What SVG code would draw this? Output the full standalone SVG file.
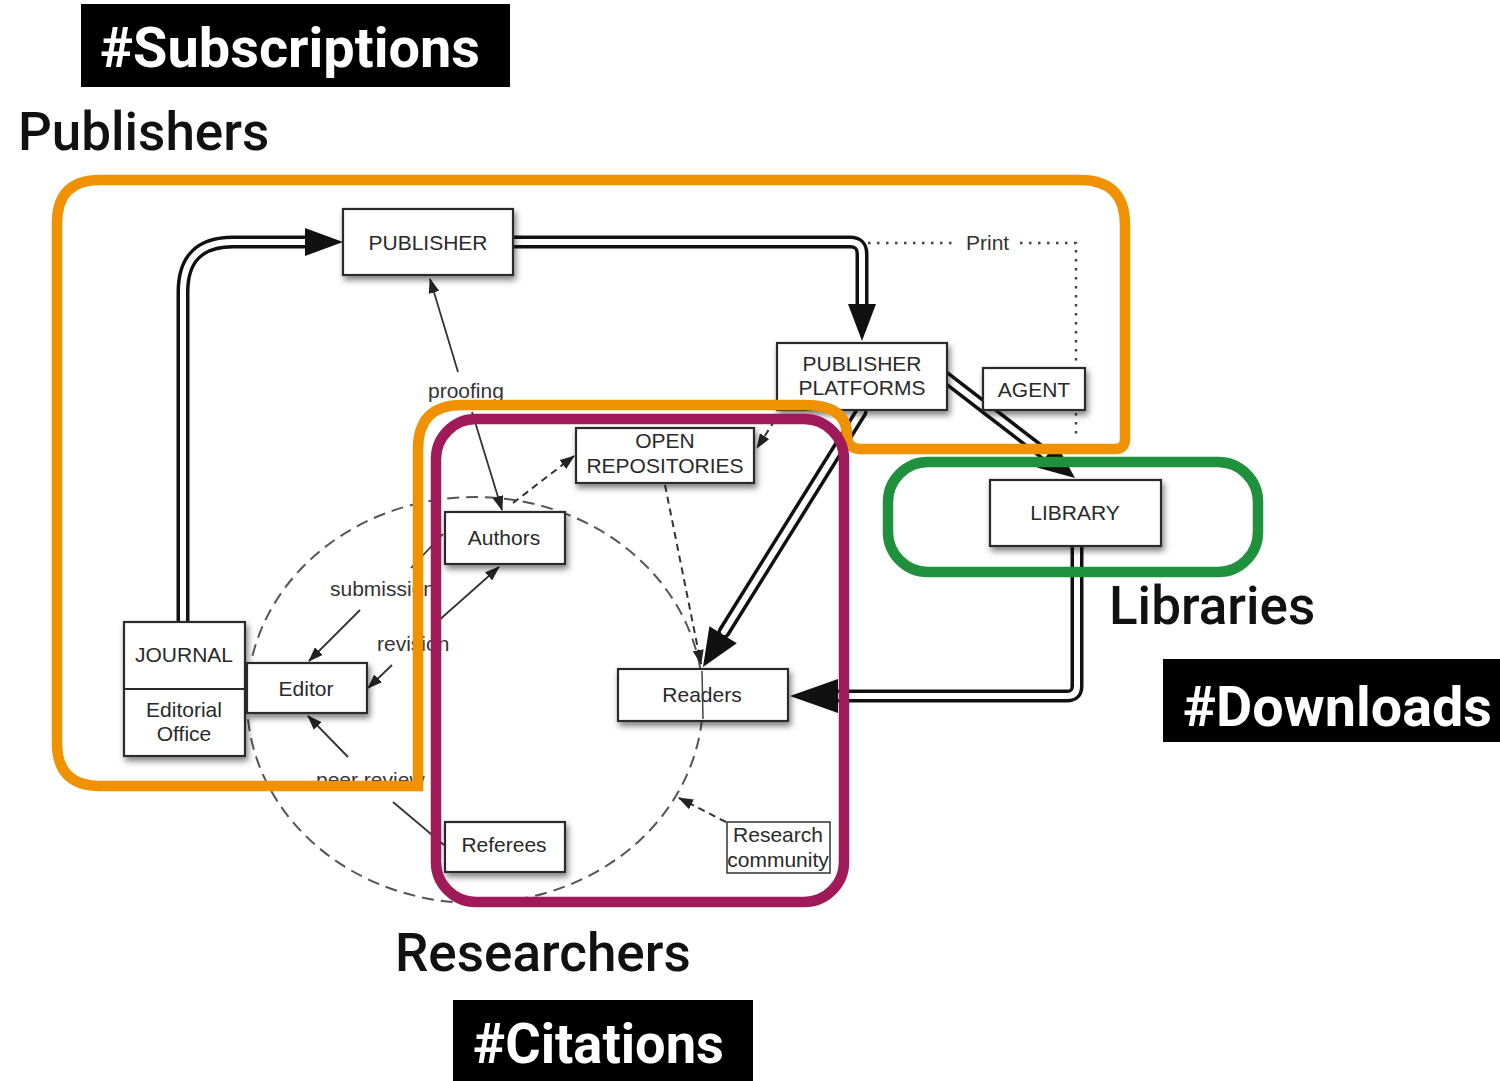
<svg xmlns="http://www.w3.org/2000/svg" width="1500" height="1081" viewBox="0 0 1500 1081">
<style>
.bg{fill:#fff}
.box{fill:#fff;stroke:#2a2a2a;stroke-width:2.2}
.t{font-family:"Liberation Sans",Arial,sans-serif;font-size:21px;fill:#2a2a2a;text-anchor:middle}
.lbl{font-family:"Liberation Sans",Arial,sans-serif;font-size:21px;fill:#333}
.dblo{fill:none;stroke:#111;stroke-width:13;stroke-linecap:round;stroke-linejoin:round}
.dbli{fill:none;stroke:#fff;stroke-width:6;stroke-linecap:round;stroke-linejoin:round}
.head{fill:#111}
.thin{fill:none;stroke:#333;stroke-width:1.8}
.dash{fill:none;stroke:#333;stroke-width:2;stroke-dasharray:7 5}
.dot{fill:none;stroke:#444;stroke-width:2.5;stroke-dasharray:2.5 6.5}
.circ{fill:none;stroke:#555;stroke-width:2;stroke-dasharray:12 7}
.region{fill:none;stroke-width:10.5}
.big{font-family:Roboto,"Liberation Sans",sans-serif;font-weight:500;font-size:53px;fill:#111}
.tag{font-family:Roboto,"Liberation Sans",sans-serif;font-weight:700;font-size:56px;fill:#fff}
</style>
<defs>
<filter id="sh" x="-20%" y="-20%" width="150%" height="170%">
<feDropShadow dx="2" dy="4" stdDeviation="3" flood-color="#000" flood-opacity="0.5"/>
</filter>
<marker id="ah" markerUnits="userSpaceOnUse" markerWidth="15" markerHeight="11" refX="14" refY="5.5" orient="auto">
<path d="M0,0 L15,5.5 L0,11 z" fill="#222"/>
</marker>
<path id="c1" d="M183 622 L183 292 Q183 242 233 242 L312 242"/>
<path id="c2" d="M510 242 L850 242 Q862 242 862 254 L862 308"/>
<path id="c3" d="M945 377 L1050 458"/>
<path id="c4" d="M861 412 L724 632"/>
<path id="c5" d="M1077 543 L1077 686 Q1077 696 1067 696 L832 696"/>
</defs>
<rect class="bg" x="0" y="0" width="1500" height="1081"/>

<g id="connectors">
<ellipse class="circ" cx="475" cy="700" rx="228" ry="203"/>
<use href="#c1" class="dblo"/><use href="#c1" class="dbli"/>
<polygon class="head" points="343,242 305,228 305,256"/>
<use href="#c2" class="dblo"/><use href="#c2" class="dbli"/>
<polygon class="head" points="862,341 848,304 876,304"/>
<use href="#c3" class="dblo"/><use href="#c3" class="dbli"/>
<polygon class="head" points="1075,478 1036.9,467.6 1056.3,444.0"/>
<use href="#c4" class="dblo"/><use href="#c4" class="dbli"/>
<polygon class="head" points="703,667 736.8,643.3 709.4,626.3"/>
<use href="#c5" class="dblo"/><use href="#c5" class="dbli"/>
<polygon class="head" points="790,696 838,679 838,713"/>
<path class="dot" d="M868 243 L958 243 M1020 243 L1076 243 L1076 366 M1076 413 L1076 440"/>
<text class="lbl" x="966" y="250">Print</text>
<line class="thin" x1="458" y1="372" x2="430" y2="279" marker-end="url(#ah)"/>
<line class="thin" x1="472" y1="412" x2="502" y2="510" marker-end="url(#ah)"/>
<line class="thin" x1="360" y1="610" x2="309" y2="661" marker-end="url(#ah)"/>
<line class="thin" x1="392" y1="665" x2="368" y2="688" marker-end="url(#ah)"/>
<line class="thin" x1="348" y1="757" x2="308" y2="716" marker-end="url(#ah)"/>
<line class="thin" x1="437" y1="622" x2="499" y2="567" marker-end="url(#ah)"/>
<line class="thin" x1="443" y1="534" x2="411" y2="568"/>
<line class="thin" x1="393" y1="802" x2="444" y2="845"/>
<line class="dash" x1="513" y1="503" x2="574" y2="456" marker-end="url(#ah)"/>
<line class="dash" x1="665" y1="485" x2="701" y2="664" marker-end="url(#ah)"/>
<line class="dash" x1="775" y1="420" x2="757" y2="448" marker-end="url(#ah)"/>
<line class="dash" x1="726" y1="822" x2="679" y2="798" marker-end="url(#ah)"/>
<text class="lbl" x="428" y="398">proofing</text>
<text class="lbl" x="330" y="596">submission</text>
<text class="lbl" x="377" y="651">revision</text>
<text class="lbl" x="316" y="787">peer review</text>
</g>

<g id="publisher"><rect class="box" filter="url(#sh)" x="343" y="209" width="170" height="66"/><text class="t" x="428" y="250">PUBLISHER</text></g>
<g id="publisher-platforms"><rect class="box" filter="url(#sh)" x="777" y="343" width="170" height="67"/><text class="t" x="862" y="371">PUBLISHER</text><text class="t" x="862" y="395">PLATFORMS</text></g>
<g id="agent"><rect class="box" filter="url(#sh)" x="983" y="368" width="102" height="42"/><text class="t" x="1034" y="397">AGENT</text></g>
<g id="library"><rect class="box" filter="url(#sh)" x="990" y="480" width="171" height="66"/><text class="t" x="1075" y="520">LIBRARY</text></g>
<g id="open-repositories"><rect class="box" filter="url(#sh)" x="576" y="428" width="178" height="55"/><text class="t" x="665" y="448">OPEN</text><text class="t" x="665" y="473">REPOSITORIES</text></g>
<g id="authors"><rect class="box" filter="url(#sh)" x="445" y="512" width="120" height="52"/><text class="t" x="504" y="545">Authors</text></g>
<g id="journal"><rect class="box" filter="url(#sh)" x="124" y="622" width="121" height="134"/><line x1="124" y1="689" x2="245" y2="689" stroke="#2a2a2a" stroke-width="2"/><text class="t" x="184" y="662">JOURNAL</text><text class="t" x="184" y="717">Editorial</text><text class="t" x="184" y="741">Office</text></g>
<g id="editor"><rect class="box" filter="url(#sh)" x="247" y="663" width="120" height="50"/><text class="t" x="306" y="696">Editor</text></g>
<g id="readers"><rect class="box" filter="url(#sh)" x="618" y="669" width="170" height="52"/><text class="t" x="702" y="702">Readers</text><line x1="702" y1="671" x2="703" y2="719" stroke="#444" stroke-width="1.5"/></g>
<g id="referees"><rect class="box" filter="url(#sh)" x="445" y="822" width="120" height="50"/><text class="t" x="504" y="852">Referees</text></g>
<g id="research-community"><rect x="727" y="822" width="103" height="51" fill="#fff" stroke="#333" stroke-width="1.5"/><text class="t" x="778" y="842">Research</text><text class="t" x="778" y="867">community</text></g>

<g id="regions">
<path class="region" stroke="#F09100" d="M100 180 L1080 180 Q1125 180 1125 225 L1125 439 Q1125 449 1115 449 L861 449 Q847 449 847 435 Q847 405 805 405 L462 405 Q418 405 418 449 L418 786 L100 786 Q57 786 57 743 L57 223 Q57 180 100 180 Z"/>
<rect class="region" stroke="#A01A5A" x="436" y="419" width="408" height="483" rx="40"/>
<rect class="region" stroke="#1F913C" x="888" y="462" width="370" height="110" rx="40"/>
</g>

<g id="labels">
<rect x="81" y="4" width="429" height="83" fill="#000"/>
<text class="tag" x="100" y="67" textLength="380" lengthAdjust="spacingAndGlyphs">#Subscriptions</text>
<text class="big" x="18" y="150">Publishers</text>
<text class="big" x="1109" y="624">Libraries</text>
<rect x="1163" y="659" width="337" height="83" fill="#000"/>
<text class="tag" x="1183" y="726" textLength="309" lengthAdjust="spacingAndGlyphs">#Downloads</text>
<text class="big" x="395" y="971">Researchers</text>
<rect x="453" y="1000" width="300" height="81" fill="#000"/>
<text class="tag" x="473" y="1063" textLength="251" lengthAdjust="spacingAndGlyphs">#Citations</text>
</g>
</svg>
